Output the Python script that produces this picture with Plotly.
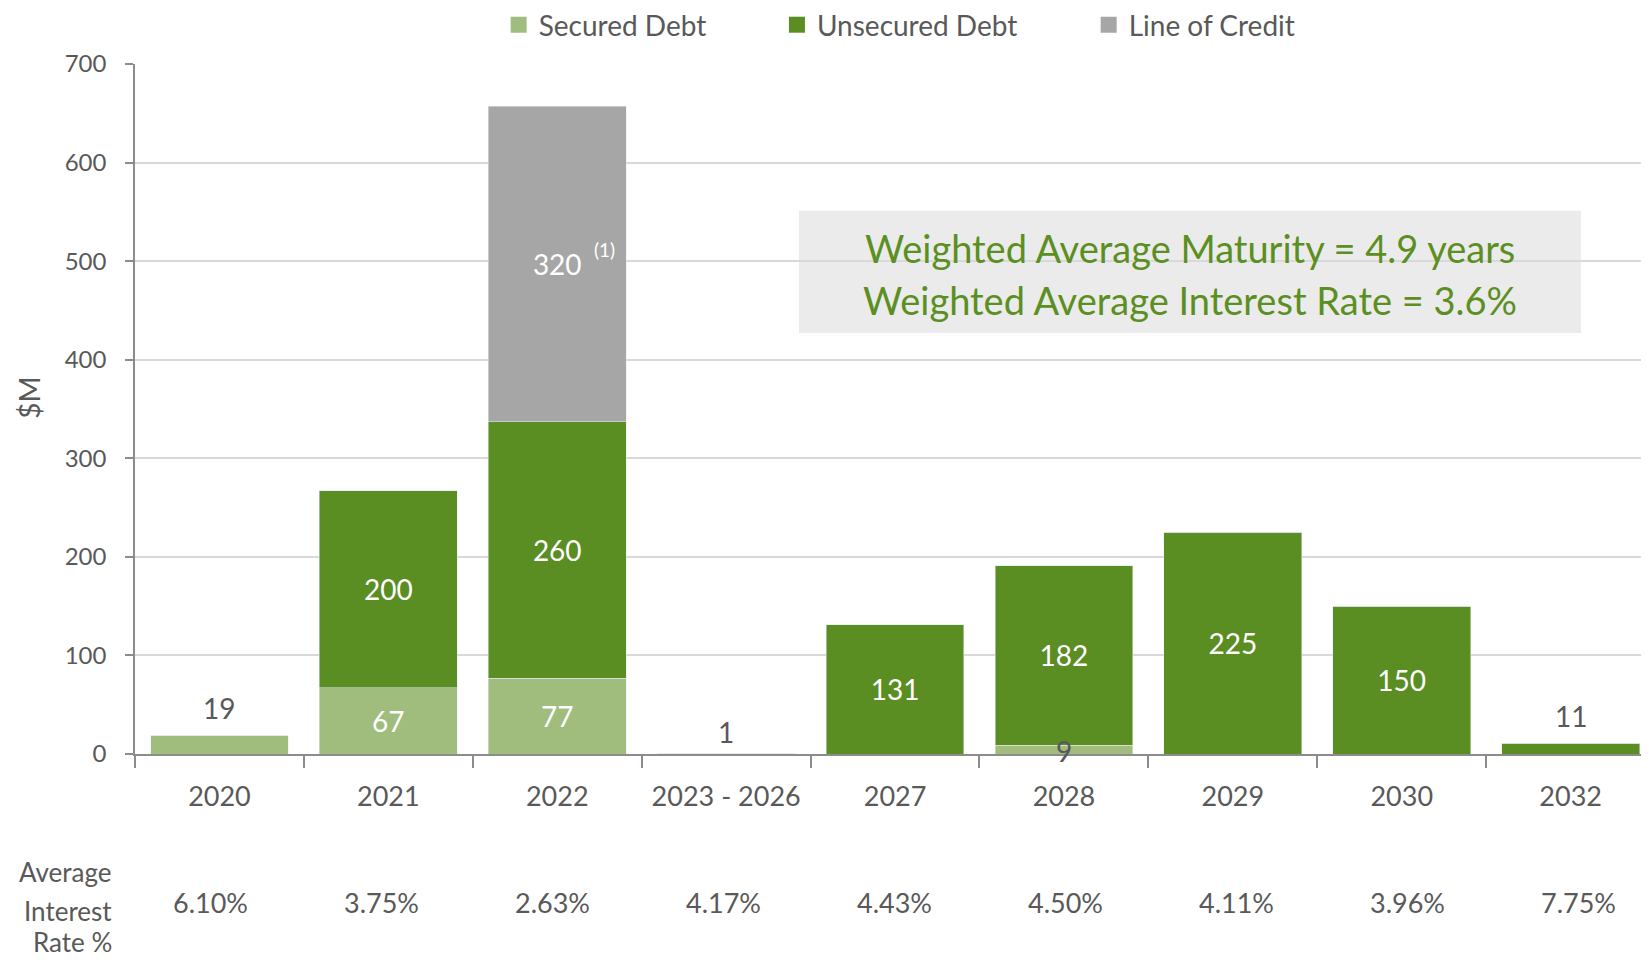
import plotly.graph_objects as go

categories = ["2020", "2021", "2022", "2023 - 2026", "2027", "2028", "2029", "2030", "2032"]
secured = [19, 67, 77, 1, 0, 9, 0, 0, 0]
unsecured = [0, 200, 260, 0, 131, 182, 225, 150, 11]
line_of_credit = [0, 0, 320, 0, 0, 0, 0, 0, 0]
interest_rates = ["6.10%", "3.75%", "2.63%", "4.17%", "4.43%", "4.50%", "4.11%", "3.96%", "7.75%"]

C_SEC = "#a1bd7e"
C_UNS = "#5a8d22"
C_LOC = "#a6a6a6"
GRAY = "#595959"
FONT = "Lato"

INSIDE_MIN = 40  # segments smaller than this get labels outside


def inside_text(vals):
    return [str(v) if v >= INSIDE_MIN else "" for v in vals]


fig = go.Figure()
series = [("Secured Debt", secured, C_SEC), ("Unsecured Debt", unsecured, C_UNS), ("Line of Credit", line_of_credit, C_LOC)]
for name, vals, col in series:
    fig.add_trace(go.Bar(x=categories, y=vals, name=name, marker_color=col, showlegend=False,
                         text=inside_text(vals), textposition="inside", insidetextanchor="middle",
                         textfont=dict(color="white", size=28, family=FONT), hoverinfo="skip"))

# legend entries (separate legends for Excel-like spacing)
legend_names = ["legend", "legend2", "legend3"]
legend_x = [0.2402, 0.424, 0.6299]
for (name, vals, col), lg in zip(series, legend_names):
    fig.add_trace(go.Scatter(x=[None], y=[None], mode="markers", name=name, legend=lg,
                             marker=dict(symbol="square", size=16, color=col), hoverinfo="skip"))

annotations = []
# small-value labels
totals = [s + u + l for s, u, l in zip(secured, unsecured, line_of_credit)]
for i, (s, t) in enumerate(zip(secured, totals)):
    if 0 < t < INSIDE_MIN:
        annotations.append(dict(x=i, y=t, xref="x", yref="y", text=str(t), showarrow=False,
                                xanchor="center", yanchor="middle", yshift=27 if t > 5 else 21,
                                font=dict(color=GRAY, size=28, family=FONT)))
    elif 0 < s < INSIDE_MIN:
        annotations.append(dict(x=i, y=s / 2, xref="x", yref="y", text=str(s), showarrow=False,
                                xanchor="center", yanchor="middle", yshift=-1,
                                font=dict(color=GRAY, size=28, family=FONT)))
# footnote marker on line of credit
annotations.append(dict(x=2, y=line_of_credit[2] / 2 + unsecured[2] + secured[2], xref="x", yref="y",
                        text="(1)", showarrow=False, xshift=47, yshift=15, xanchor="center",
                        font=dict(color="white", size=19, family=FONT)))
# interest rate row
for i, r in enumerate(interest_rates):
    annotations.append(dict(x=i, y=-0.2145, xref="x", yref="paper", text=r, showarrow=False,
                            xanchor="center", yanchor="middle", xshift=(i - 4.3) * 2.1,
                            font=dict(color=GRAY, size=27, family=FONT)))
for txt, yy in [("Average", -0.171), ("Interest", -0.2275), ("Rate %", -0.2725)]:
    annotations.append(dict(x=-0.014, y=yy, xref="paper", yref="paper", text=txt, showarrow=False,
                            xanchor="right", yanchor="middle", font=dict(color=GRAY, size=26, family=FONT)))
# y-axis title
annotations.append(dict(x=-0.0697, y=0.517, xref="paper", yref="paper", text="$M", showarrow=False,
                        textangle=-90, xanchor="center", yanchor="middle",
                        font=dict(color=GRAY, size=28, family=FONT)))
# summary box text
for txt, yy in [("Weighted Average Maturity = 4.9 years", 513), ("Weighted Average Interest Rate = 3.6%", 460.5)]:
    annotations.append(dict(x=0.697, y=yy, xref="paper", yref="y", text=txt, showarrow=False,
                            xanchor="center", yanchor="middle",
                            font=dict(color="#5b8f22", size=38, family=FONT)))

layout_legends = {}
for lg, lx in zip(legend_names, legend_x):
    layout_legends[lg] = dict(orientation="h", x=lx, xanchor="left", y=1.0565, yanchor="middle",
                              font=dict(size=28, color=GRAY, family=FONT), bgcolor="rgba(0,0,0,0)",
                              itemsizing="trace")

fig.update_layout(
    width=1641, height=952,
    margin=dict(l=127, r=0, t=56, b=206, autoexpand=False),
    barmode="stack", bargap=0.184,
    plot_bgcolor="white", paper_bgcolor="white",
    font=dict(family=FONT, color=GRAY, size=24),
    annotations=annotations,
    shapes=[dict(type="rect", xref="paper", yref="y", x0=0.4386, x1=0.955, y0=427, y1=551,
                 fillcolor="#ebebeb", line=dict(width=0), layer="below")],
    **layout_legends,
)
fig.update_xaxes(range=[-0.5, 8.464], showline=True, linecolor="#8c8c8c", linewidth=1.5,
                 ticks="outside", tickson="boundaries", ticklen=12, tickcolor="#8c8c8c", tickwidth=1.5,
                 tickfont=dict(size=27, color=GRAY, family=FONT), ticklabelstandoff=18, showgrid=False,
                 automargin=False)
fig.update_yaxes(range=[0, 700], dtick=100, showline=True, linecolor="#8c8c8c", linewidth=1.5,
                 ticks="outside", ticklen=8, tickcolor="#8c8c8c", tickwidth=1.5,
                 gridcolor="#d9d9d9", gridwidth=1.5, zeroline=False,
                 tickfont=dict(size=24, color=GRAY, family=FONT), ticklabelstandoff=14,
                 automargin=False)

fig.write_html("out.html")
